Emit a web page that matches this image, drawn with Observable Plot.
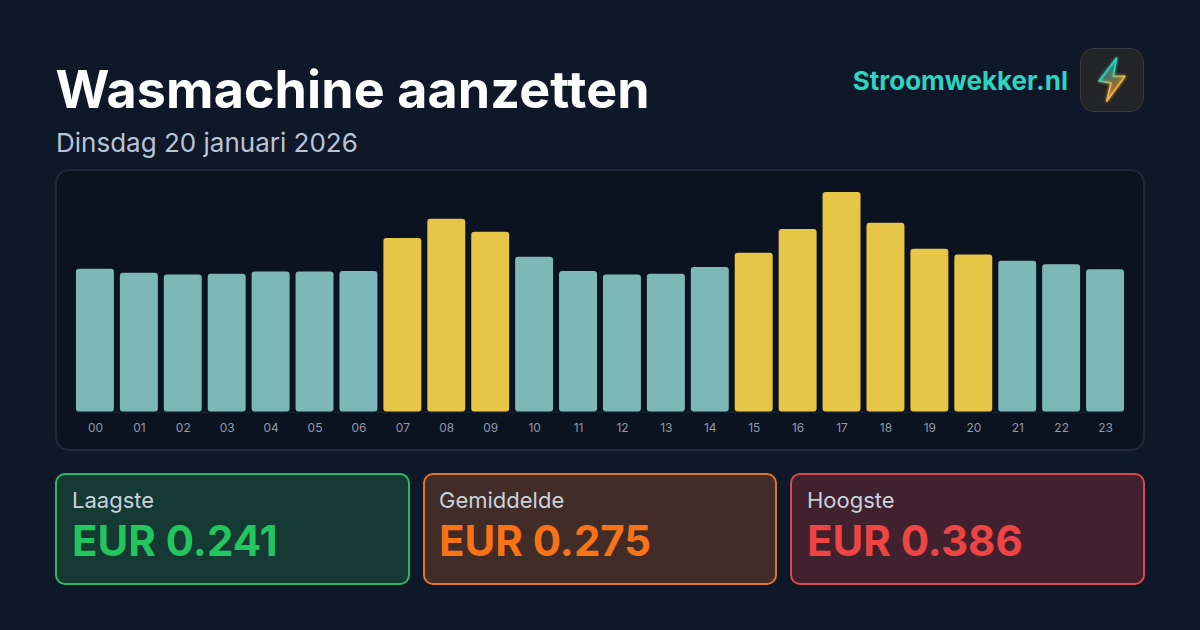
<!DOCTYPE html>
<html lang="nl"><head><meta charset="utf-8">
<script src="https://cdn.jsdelivr.net/npm/d3@7"></script>
<script src="https://cdn.jsdelivr.net/npm/@observablehq/plot@0.6"></script>
<style>
html,body{margin:0;padding:0;width:1200px;height:630px;overflow:hidden;background:#0f172a;font-family:Inter,sans-serif}
#page{position:relative;width:1200px;height:630px;background:#0f1829}
.abs{position:absolute;white-space:nowrap;line-height:1}
#title{left:55.5px;top:64px;font-size:52px;font-weight:700;color:#fff;letter-spacing:0.1px}
#sub{left:56px;top:130px;font-size:26px;color:#b8c4d6}
#brand{right:132px;top:68px;font-size:26px;font-weight:700;color:#2dd4bf}
#icon{position:absolute;left:1080px;top:48px;width:62px;height:62px;border:1px solid #383a3d;border-radius:14px;background:#232425}
#panel{position:absolute;left:55px;top:169px;width:1086px;height:278px;border:2px solid #1e293b;border-radius:14px;background:#0b1220}
#panel svg{position:absolute;left:-1px;top:-1px;background:transparent}
.card{position:absolute;top:473px;width:351px;height:108px;border:2px solid;border-radius:10px;box-sizing:content-box}
.card .l{position:absolute;left:15px;top:14px;font-size:22px;line-height:1;color:#c8d2de}
.card .v{position:absolute;left:15px;top:45px;font-size:42px;line-height:1;font-weight:700}
</style></head><body>
<div id="page">
<div id="title" class="abs">Wasmachine aanzetten</div>
<div id="sub" class="abs">Dinsdag 20 januari 2026</div>
<div id="brand" class="abs">Stroomwekker.nl</div>
<div id="icon"><svg width="62" height="62" viewBox="0 0 62 62"><defs>
<linearGradient id="bg" x1="0.3" y1="0.1" x2="0.6" y2="0.9"><stop offset="0.3" stop-color="#2dd4bf"/><stop offset="0.65" stop-color="#f5b04a"/></linearGradient>
<linearGradient id="bf" x1="0.3" y1="0.1" x2="0.6" y2="0.9"><stop offset="0.2" stop-color="#2dd4bf" stop-opacity="0.3"/><stop offset="0.7" stop-color="#f5a83a" stop-opacity="0.3"/></linearGradient>
<filter id="gl" x="-60%" y="-60%" width="220%" height="220%"><feGaussianBlur stdDeviation="1.6" result="b"/><feMerge><feMergeNode in="b"/><feMergeNode in="SourceGraphic"/></feMerge></filter></defs>
<path d="M35.7 9 L18 32 L30 34 L25.7 52.3 L44 27.3 L32.3 27.3 Z" fill="url(#bf)" stroke="url(#bg)" stroke-width="1.5" stroke-linejoin="round" filter="url(#gl)"/></svg></div>
<div id="panel"></div>
<div class="card" style="left:55px;background:#153a33;border-color:#2fb565"><div class="l">Laagste</div><div class="v" style="color:#22c55e">EUR 0.241</div></div>
<div class="card" style="left:423px;width:350px;background:#412c27;border-color:#e0762a"><div class="l" style="left:14px">Gemiddelde</div><div class="v" style="left:14px;color:#f97316">EUR 0.275</div></div>
<div class="card" style="left:790px;background:#42212e;border-color:#d84a4f"><div class="l">Hoogste</div><div class="v" style="color:#ef4444">EUR 0.386</div></div>
</div>
<script>
const hours = ["00","01","02","03","04","05","06","07","08","09","10","11","12","13","14","15","16","17","18","19","20","21","22","23"];
const prices = [0.251,0.244,0.241,0.242,0.246,0.246,0.247,0.305,0.339,0.316,0.272,0.247,0.241,0.242,0.254,0.279,0.321,0.386,0.332,0.286,0.276,0.265,0.259,0.250];
const highlighted = ["07","08","09","15","16","17","18","19","20"];
const table = hours.map((hour,i)=>({hour,price:prices[i],group:highlighted.includes(hour)?"on":"off"}));
const chart = Plot.plot({
  width:1088,height:280,
  marginLeft:20,marginRight:18,marginTop:0,marginBottom:38,
  style:{background:"transparent",fontFamily:"Inter,sans-serif"},
  x:{domain:hours,paddingInner:0.136,paddingOuter:0,round:false,label:null},
  y:{domain:[0,0.4],range:[242,14],axis:null},
  color:{domain:["off","on"],range:["#7db8b8","#e6c547"]},
  marks:[
    Plot.ruleY([0],{stroke:"#1e293b",strokeWidth:1}),
    Plot.barY(table,{x:"hour",y:"price",fill:"group",r:3}),
    Plot.axisX({fontSize:12,color:"#8e99a9",tickSize:0,tickPadding:11,label:null})
  ]
});
document.getElementById("panel").append(chart);
</script>
</body></html>
